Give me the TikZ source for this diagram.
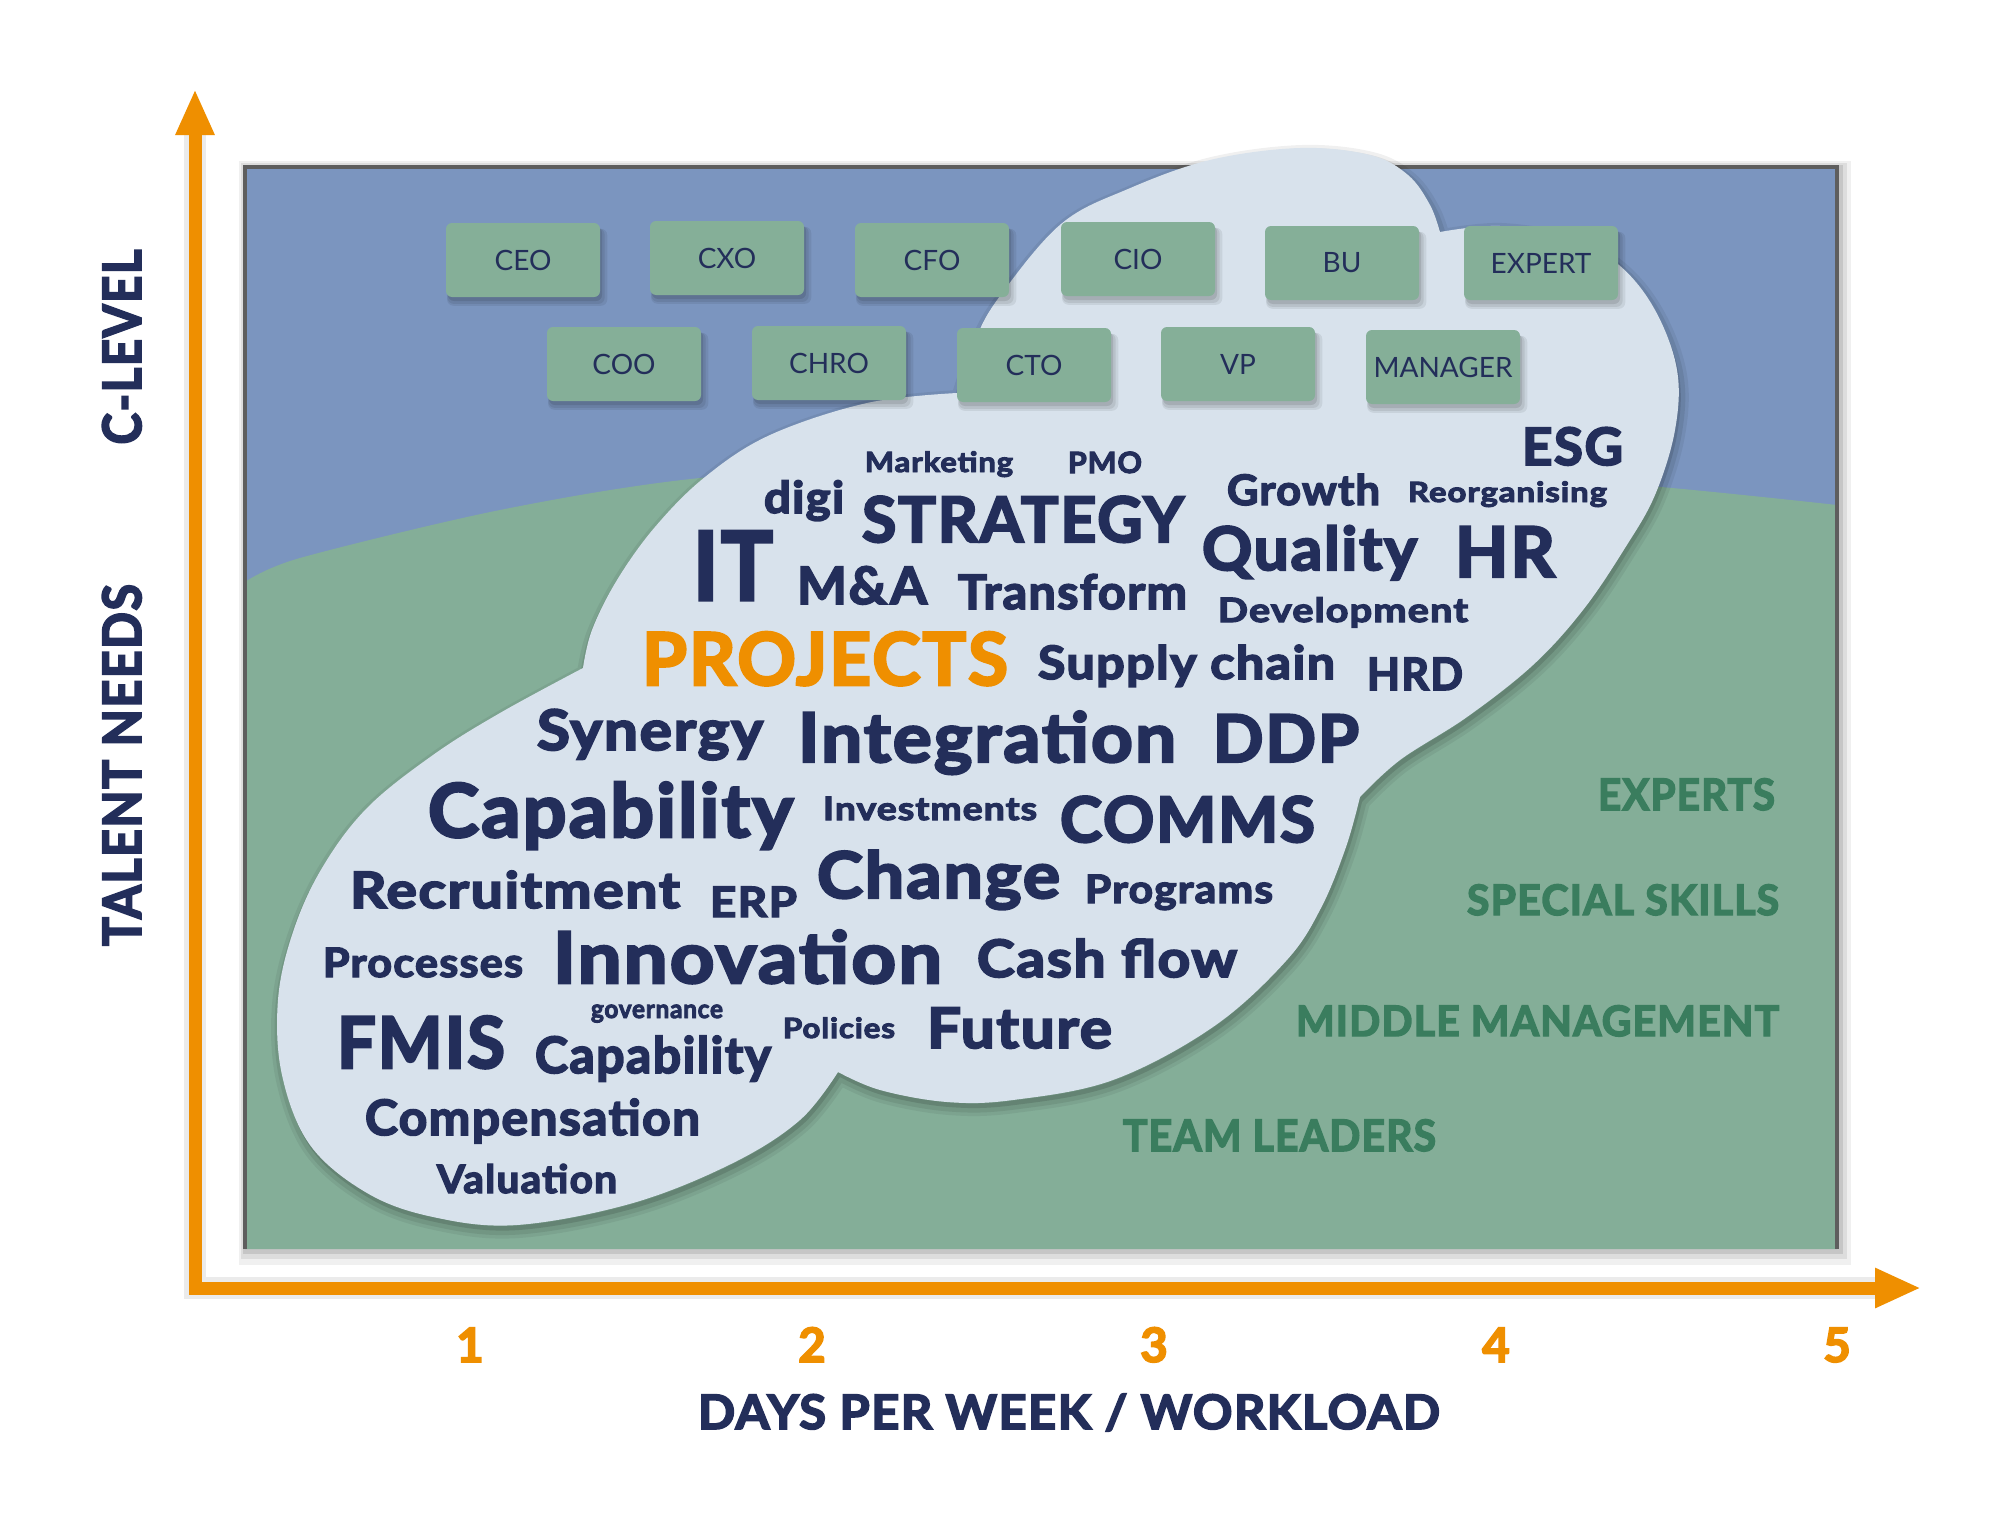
\documentclass[tikz,border=0pt]{standalone}
\usepackage{fontspec}
\setmainfont{Lato}
\newfontfamily\lightf{Lato}
\newfontfamily\heavyf{Lato Bold}[FakeBold=3.5, LetterSpace=3]
\usepackage{graphicx}
\usetikzlibrary{shadows,arrows.meta}
\definecolor{bluebg}{HTML}{7B95BF}
\definecolor{greenbg}{HTML}{84AE98}
\definecolor{cloudc}{HTML}{D8E2EC}
\definecolor{navy}{HTML}{232E5A}
\definecolor{orng}{HTML}{EF8F00}
\definecolor{gtext}{HTML}{3A7D5E}
\definecolor{boxc}{HTML}{85AF98}
\definecolor{framec}{HTML}{5E5E5E}
\tikzset{
  wrd/.style={anchor=base, inner sep=0pt, outer sep=0pt},
  box/.style={rounded corners=6pt, fill=boxc, minimum width=154pt, minimum height=74pt,
    inner sep=0pt, text=navy, font=\lightf\fontsize{28}{28}\selectfont,
    general shadow={fill=black, opacity=0.07, shadow xshift=4pt, shadow yshift=-7pt, shadow scale=1.04},
    general shadow={fill=black, opacity=0.08, shadow xshift=3pt, shadow yshift=-6pt, shadow scale=1.02},
    general shadow={fill=black, opacity=0.10, shadow xshift=2pt, shadow yshift=-4pt}},
}
\newcommand\wrd[7]{\node[wrd, text=#6, font=\heavyf\fontsize{#5}{#5}\selectfont] (#1) at (#2,#3) {\resizebox{#4pt}{\height}{#7}};}
\newcommand\cloudpath{(957,393) -- plot[smooth, tension=0.6] coordinates {(957,393) (975,340) (1000,296) (1061,224) (1128,189) (1210,160) (1300,148) (1370,155) (1408,175) (1430,205) (1440,232)}
 -- plot[smooth, tension=0.6] coordinates {(1440,232) (1500,226) (1570,238) (1619,265) (1655,310) (1677,370) (1675,430) (1655,495) (1625,548) (1583,610) (1533,665) (1467,717) (1400,760) (1360,797)}
 -- plot[smooth, tension=0.6] coordinates {(1360,797) (1346,847) (1321,908) (1286,961) (1213,1027) (1113,1080) (1013,1100) (947,1102) (880,1090) (838,1072)}
 -- plot[smooth, tension=0.6] coordinates {(838,1072) (800,1120) (733,1163) (633,1203) (517,1225) (433,1217) (367,1193) (310,1145) (282,1075) (278,1000) (293,932) (322,868) (367,808) (433,755) (500,713) (583,668)}
 -- plot[smooth, tension=0.6] coordinates {(583,668) (592,630) (617,580) (655,527) (705,477) (770,435) (867,403) (957,393)} -- cycle}
\begin{document}
\begin{tikzpicture}[x=1pt, y=-1pt]
\useasboundingbox (0,0) rectangle (2000,1528);
\fill[white] (0,0) rectangle (2000,1528);
% frame shadow
\fill[black, opacity=0.06] (239,161) rectangle (1851,1265);
\fill[black, opacity=0.08] (241,163) rectangle (1847,1259);
\fill[black, opacity=0.10] (243,165) rectangle (1843,1254);
% background
\fill[bluebg] (245,167) rectangle (1837,1249);
\fill[greenbg] (245,582) -- plot[smooth] coordinates {(245,582) (300,558) (500,510) (700,478) (1000,458) (1300,458) (1650,486) (1837,505)} -- (1837,1249) -- (245,1249) -- cycle;
\draw[framec, line width=4pt] (245,1249) -- (245,167) -- (1837,167) -- (1837,1249);
% cloud shadow
\begin{scope}[shift={(2,5)}]
\draw[black, opacity=0.06, line width=16pt, line join=round] \cloudpath;
\draw[black, opacity=0.08, line width=9pt, line join=round] \cloudpath;
\fill[black, opacity=0.12] \cloudpath;
\end{scope}
\fill[cloudc] \cloudpath;
% boxes
\node[box] (ceo) at (523,260) {CEO};
\node[box] (cxo) at (727,258) {CXO};
\node[box] (cfo) at (932,260) {CFO};
\node[box] (cio) at (1138,259) {CIO};
\node[box] (bu) at (1342,263) {BU};
\node[box] (expert) at (1541,263) {EXPERT};
\node[box] (coo) at (624,364) {COO};
\node[box] (chro) at (829,363) {CHRO};
\node[box] (cto) at (1034,365) {CTO};
\node[box] (vp) at (1238,364) {VP};
\node[box] (manager) at (1443,367) {MANAGER};
% words
\wrd{marketing}{939}{472}{148}{27.9}{navy}{Marketing}
\wrd{pmo}{1105}{473}{74}{29.3}{navy}{PMO}
\wrd{digi}{804}{513}{80}{44}{navy}{digi}
\wrd{strategy}{1023}{542}{322}{62.8}{navy}{STRATEGY}
\wrd{it}{733}{600}{80}{94.9}{navy}{IT}
\wrd{ma}{862}{604}{130}{51.6}{navy}{M\&A}
\wrd{transform}{1072.5}{609}{229}{47.5}{navy}{Transform}
\wrd{projects}{825}{685}{366}{72.6}{orng}{PROJECTS}
\wrd{supply}{1186.5}{679}{297}{46}{navy}{Supply chain}
\wrd{synergy}{650}{750}{226}{55.8}{navy}{Synergy}
\wrd{integration}{987}{762}{378}{68.4}{navy}{Integration}
\wrd{ddp}{1286}{762}{146}{65.6}{navy}{DDP}
\wrd{capability}{610.5}{837}{365}{74}{navy}{Capability}
\wrd{investments}{930}{820}{214}{32.1}{navy}{Investments}
\wrd{comms}{1187.5}{842}{255}{62.8}{navy}{COMMS}
\wrd{recruitment}{515}{908}{330}{50.2}{navy}{Recruitment}
\wrd{erp}{753.5}{917}{87}{41.9}{navy}{ERP}
\wrd{change}{938.5}{898}{243}{64.2}{navy}{Change}
\wrd{programs}{1179}{903}{188}{39.1}{navy}{Programs}
\wrd{processes}{423}{977}{200}{40.5}{navy}{Processes}
\wrd{innovation}{747.5}{983}{389}{71.2}{navy}{Innovation}
\wrd{cashflow}{1107}{977}{260}{51.6}{navy}{Cash flow}
\wrd{fmis}{421}{1068}{168}{71.2}{navy}{FMIS}
\wrd{governance}{657}{1018}{132}{25.7}{navy}{governance}
\wrd{capabilitytwo}{653}{1073}{236}{50.2}{navy}{Capability}
\wrd{policies}{839}{1038}{112}{27.9}{navy}{Policies}
\wrd{future}{1019.5}{1048}{185}{55.8}{navy}{Future}
\wrd{compensation}{532.5}{1135}{335}{48.8}{navy}{Compensation}
\wrd{valuation}{527}{1193}{180}{39.1}{navy}{Valuation}
\wrd{esg}{1572.5}{465}{101}{51.6}{navy}{ESG}
\wrd{growth}{1303.5}{505}{153}{41.9}{navy}{Growth}
\wrd{reorganising}{1507.5}{502}{199}{27.9}{navy}{Reorganising}
\wrd{quality}{1309.5}{570}{215}{60}{navy}{Quality}
\wrd{hr}{1505}{577}{100}{69.8}{navy}{HR}
\wrd{development}{1343}{622}{250}{33.5}{navy}{Development}
\wrd{hrd}{1415}{690}{96}{44.7}{navy}{HRD}
% level labels
\wrd{experts}{1686.5}{810}{177}{43.3}{gtext}{EXPERTS}
\wrd{special}{1623}{915}{312}{41.9}{gtext}{SPECIAL SKILLS}
\wrd{middle}{1537.5}{1036}{483}{41.9}{gtext}{MIDDLE MANAGEMENT}
\wrd{team}{1279.5}{1151}{313}{43.3}{gtext}{TEAM LEADERS}
% axes
\coordinate (ytip) at (195,89);
\coordinate (orig) at (195,1288);
\coordinate (xtip) at (1921,1288);
\draw[black, opacity=0.08, line width=22pt, line join=miter] (195,120) -- (orig) -- (1890,1288);
\draw[orng, line width=13pt, line join=miter, {Triangle[length=46pt, width=36pt]}-{Triangle[length=46pt, width=37pt]}] (ytip) -- (orig) -- (xtip);
\wrd{days}{1069}{1429}{742}{47.5}{navy}{DAYS PER WEEK / WORKLOAD}
\foreach \n/\xx in {1/470, 2/812, 3/1154, 4/1496, 5/1837}
  \node[wrd, text=orng, font=\heavyf\fontsize{47.5}{47.5}\selectfont] (num\n) at (\xx,1362) {\n};
\node[wrd, rotate=90, text=navy, font=\heavyf\fontsize{53}{53}\selectfont] (clevel) at (141,347) {\resizebox{195pt}{\height}{C-LEVEL}};
\node[wrd, rotate=90, text=navy, font=\heavyf\fontsize{53}{53}\selectfont] (talent) at (141,765) {\resizebox{362pt}{\height}{TALENT NEEDS}};
\end{tikzpicture}
\end{document}
